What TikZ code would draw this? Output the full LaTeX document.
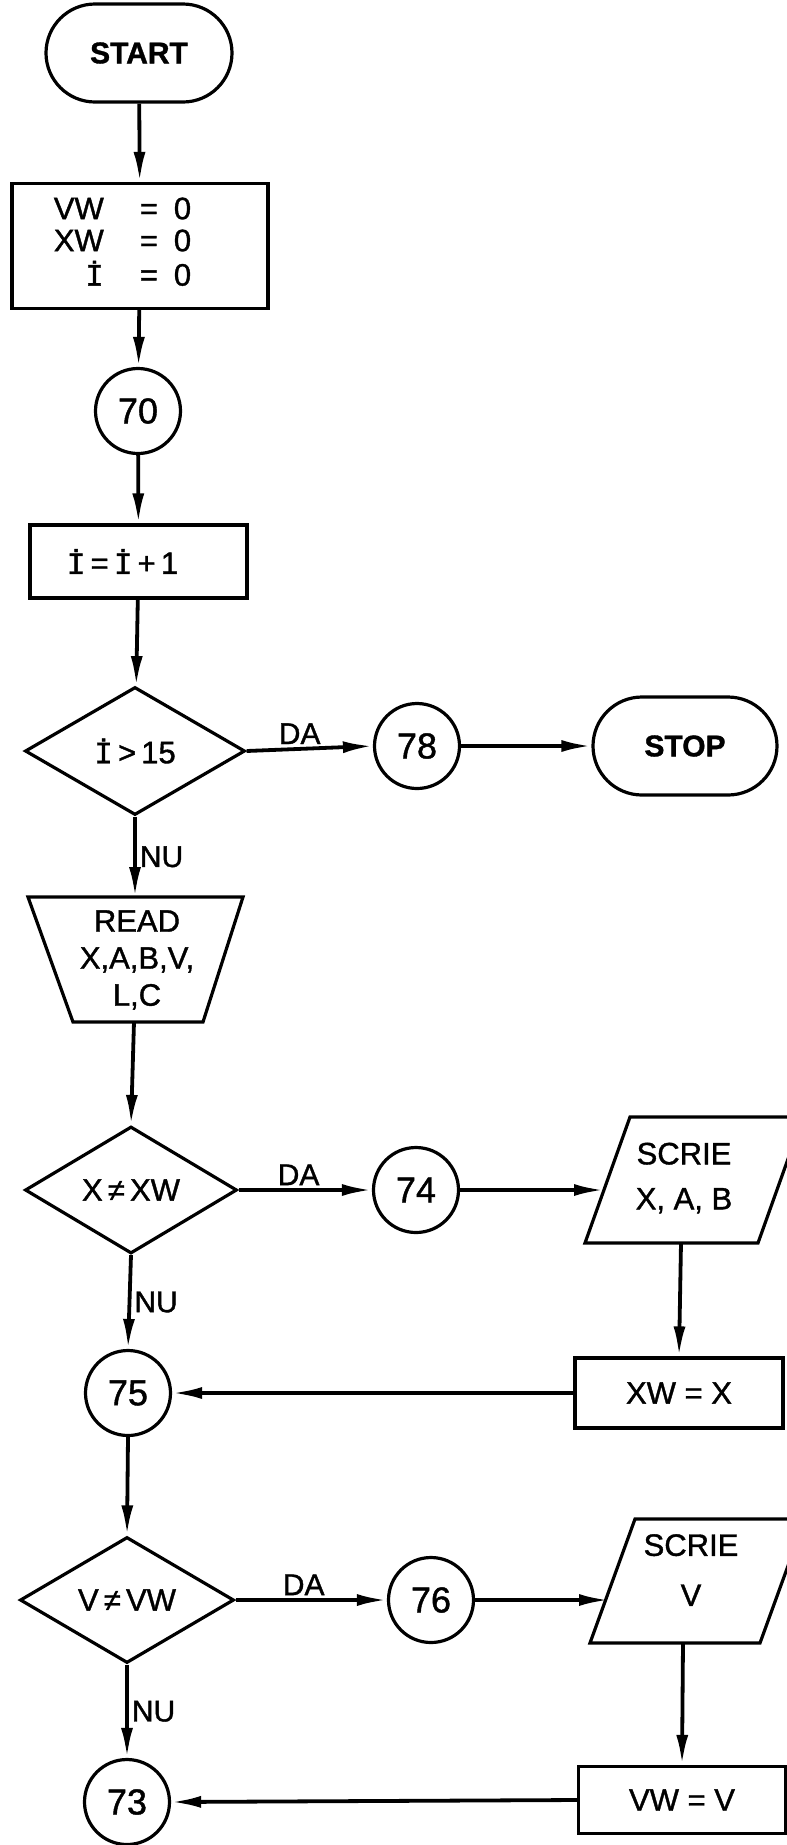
\documentclass[tikz,border=0pt]{standalone}
\usepackage{fontspec}
\setmainfont{Liberation Sans}[FakeBold=1.2]
\newfontfamily\monof{Liberation Mono}[FakeBold=1.2]
\usetikzlibrary{shapes.geometric,arrows.meta}
\newcommand\Idot{{\monof İ}}
\begin{document}
\begin{tikzpicture}[x=1pt,y=-1pt,
  txt/.style={font=\fontsize{31}{32}\selectfont},
  termnode/.style={draw, line width=3.2pt, rounded corners=49pt, minimum height=98pt, inner sep=0pt, font=\fontsize{30}{31}\selectfont\bfseries},
  procbox/.style={draw, rectangle, line width=3.2pt, inner sep=0pt, font=\fontsize{31}{32}\selectfont},
  connnode/.style={draw, circle, line width=3.2pt, minimum size=85pt, inner sep=0pt, font=\fontsize{36}{36}\selectfont},
  decnode/.style={draw, diamond, line width=3.2pt, inner sep=0pt, font=\fontsize{31}{32}\selectfont},
  outline/.style={line width=3.2pt, line join=miter},
  arr/.style={line width=3.8pt, -{Latex[length=30pt,width=12pt]}},
  lbl/.style={font=\fontsize{30}{30}\selectfont, inner sep=3pt}
]
\useasboundingbox (0,0) rectangle (787,1845);
\clip (0,0) rectangle (787,1845);

% top column
\node[termnode, minimum width=186pt] (start) at (139,53) {START};
\node[procbox, minimum width=256pt, minimum height=125pt] (init) at (140,246)
  {\begin{tabular}{@{}r@{\hspace{36pt}}c@{\hspace{16pt}}l@{}}VW & = & 0\\ XW & = & 0\\ \Idot & = & 0\end{tabular}\hspace*{35pt}};
\node[connnode] (c70) at (138,411) {70};
\node[procbox, minimum width=217pt, minimum height=73pt] (inc) at (138.5,561.5)
  {\Idot\,=\,\Idot\,+\,1\hspace*{32pt}};
\node[decnode, minimum width=220pt, minimum height=128pt] (d1) at (135,751) {\Idot\,>\,15};
\node[connnode] (c78) at (417,746) {78};
\node[termnode, minimum width=184pt] (stop) at (685,746) {STOP};

% read trapezoid
\draw[outline] (28,897) -- (243,897) -- (203,1022) -- (73,1022) -- cycle;
\node[txt, align=center, font=\fontsize{31}{37}\selectfont] (read) at (137,960) {READ\\X,A,B,V,\\L,C};
\coordinate (readtop) at (135,897);
\coordinate (readbot) at (134,1022);

% second decision
\node[decnode, minimum width=212pt, minimum height=127pt] (d2) at (131,1190) {X\,≠\,XW};
\node[connnode] (c74) at (416,1190) {74};
\draw[outline] (585,1243) -- (758,1243) -- (803,1117) -- (630,1117) -- cycle;
\node[txt, align=center, font=\fontsize{31}{45}\selectfont] (scrie1) at (684,1178) {SCRIE\\X, A, B};
\coordinate (p1in) at (604,1190);
\coordinate (p1out) at (681,1243);
\node[procbox, minimum width=208pt, minimum height=70pt] (xw) at (679,1393) {XW = X};
\node[connnode] (c75) at (128,1393) {75};

% third decision
\node[decnode, minimum width=214pt, minimum height=126pt] (d3) at (127,1600) {V\,≠\,VW};
\node[connnode] (c76) at (431,1600) {76};
\draw[outline] (590,1643) -- (760,1643) -- (805,1519) -- (635,1519) -- cycle;
\node[txt, align=center, font=\fontsize{31}{50}\selectfont] (scrie2) at (691,1570) {SCRIE\\V};
\coordinate (p2in) at (609,1600);
\coordinate (p2out) at (683,1643);
\node[procbox, minimum width=207pt, minimum height=67pt] (vw) at (682,1800) {VW = V};
\node[connnode] (c73) at (127,1802) {73};

% connectors
\draw[arr] (start) -- (init);
\draw[arr] (init) -- (c70);
\draw[arr] (c70) -- (inc);
\draw[arr] (inc) -- (d1);
\draw[arr] (d1.east) -- node[lbl, above, pos=0.42] {DA} (c78.west);
\draw[arr] (c78.east) -- (stop.west);
\draw[arr] (d1.south) -- node[lbl, right] {NU} (readtop);
\draw[arr] (readbot) -- (d2.north);
\draw[arr] (d2.east) -- node[lbl, above, pos=0.45] {DA} (c74.west);
\draw[arr] (c74.east) -- (p1in);
\draw[arr] (p1out) -- (xw.north);
\draw[arr] (xw.west) -- (c75.east);
\draw[arr] (d2.south) -- node[lbl, right] {NU} (c75.north);
\draw[arr] (c75.south) -- (d3.north);
\draw[arr] (d3.east) -- node[lbl, above, pos=0.45] {DA} (c76.west);
\draw[arr] (c76.east) -- (p2in);
\draw[arr] (p2out) -- (vw.north);
\draw[arr] (vw.west) -- (c73.east);
\draw[arr] (d3.south) -- node[lbl, right] {NU} (c73.north);
\end{tikzpicture}
\end{document}
